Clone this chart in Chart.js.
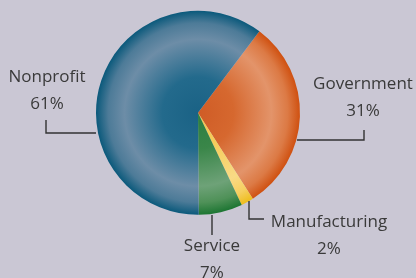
<!DOCTYPE html>
<html>
<head>
<meta charset="utf-8">
<script src="https://cdn.jsdelivr.net/npm/chart.js@4/dist/chart.umd.min.js"></script>
<style>
html, body { margin: 0; padding: 0; background: #cac7d4; }
#wrap { width: 416px; height: 278px; position: relative; }
</style>
</head>
<body>
<div id="wrap"><canvas id="pie"></canvas></div>
<script>
// data, in drawing order (clockwise from the top-right)
var categories = ["Government", "Manufacturing", "Service", "Nonprofit"];
var shares = [31, 2, 7, 61];
var shareLabels = ["31%", "2%", "7%", "61%"];

// colour stops per slice: centre, inner, bright ring, shoulder, rim
var sliceStops = [
	["#cf5c26", "#d6682f", "#e3946a", "#dc7a45", "#cf5010"],
	["#f3c64a", "#f5cd5c", "#f9da85", "#f6cf60", "#eebd1c"],
	["#2c7e40", "#3a8649", "#6ea278", "#4f9158", "#1c7532"],
	["#1a6285", "#236a8c", "#6d8da7", "#4d7b98", "#0a597b"]
];

// where the labels and leader lines go
var labelLayout = [
	{ x: 363, y: 89, line: [[297, 140], [364, 140], [364, 130]] },
	{ x: 329, y: 227, line: [[249, 201], [249, 219], [264, 219]] },
	{ x: 212, y: 251, line: [[212, 215], [212, 235]] },
	{ x: 47, y: 82, line: [[96, 133], [46, 133], [46, 120]] }
];

function sliceFill(ctx) {
	var chart = ctx.chart;
	var area = chart.chartArea;
	var stops = sliceStops[ctx.dataIndex];
	if (!area) return stops[2];
	var cx = (area.left + area.right) / 2;
	var cy = (area.top + area.bottom) / 2;
	var r = Math.min(area.right - area.left, area.bottom - area.top) / 2;
	var g = chart.ctx.createRadialGradient(cx, cy, 0, cx, cy, r);
	g.addColorStop(0, stops[0]);
	g.addColorStop(0.35, stops[1]);
	g.addColorStop(0.72, stops[2]);
	g.addColorStop(0.88, stops[3]);
	g.addColorStop(1, stops[4]);
	return g;
}

var labelPlugin = {
	id: "labels",
	afterDraw: function(chart) {
		var c = chart.ctx;
		c.save();
		c.strokeStyle = "#333333";
		c.lineWidth = 1.4;
		c.fillStyle = "#3a3a3a";
		c.font = "17px 'Open Sans', sans-serif";
		c.textAlign = "center";
		c.textBaseline = "alphabetic";
		for (var i = 0; i < categories.length; i++) {
			var L = labelLayout[i];
			c.fillText(categories[i], L.x, L.y);
			c.fillText(shareLabels[i], L.x, L.y + 27);
			c.beginPath();
			c.moveTo(L.line[0][0], L.line[0][1]);
			for (var k = 1; k < L.line.length; k++) c.lineTo(L.line[k][0], L.line[k][1]);
			c.stroke();
		}
		c.restore();
	}
};

new Chart(document.getElementById("pie"), {
	type: "pie",
	data: {
		labels: categories,
		datasets: [{
			data: shares,
			backgroundColor: sliceFill,
			borderWidth: 0
		}]
	},
	options: {
		responsive: true,
		maintainAspectRatio: false,
		animation: false,
		rotation: 37,
		layout: { padding: { top: 10.5, bottom: 63, left: 96, right: 116 } },
		plugins: {
			legend: { display: false },
			tooltip: { enabled: false }
		}
	},
	plugins: [labelPlugin]
});
</script>
</body>
</html>
